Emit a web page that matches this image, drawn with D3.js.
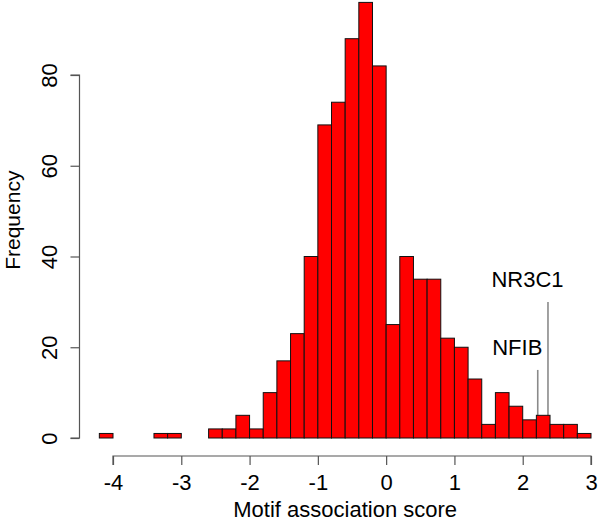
<!DOCTYPE html>
<html>
<head>
<meta charset="utf-8">
<script src="https://cdn.jsdelivr.net/npm/d3@7"></script>
<style>
  html, body { margin: 0; padding: 0; background: #fff; }
  svg { display: block; }
  text { font-family: "Liberation Sans", Arial, Helvetica, sans-serif; fill: #000; }
</style>
</head>
<body>
<script>
// Histogram bins (left edges, width 0.2) and counts
const binStarts = [-4.2,-4.0,-3.8,-3.6,-3.4,-3.2,-3.0,-2.8,-2.6,-2.4,-2.2,-2.0,-1.8,-1.6,-1.4,-1.2,-1.0,-0.8,-0.6,-0.4,-0.2,
                   0.0,0.2,0.4,0.6,0.8,1.0,1.2,1.4,1.6,1.8,2.0,2.2,2.4,2.6,2.8];
const counts    = [1,0,0,0,1,1,0,0,2,2,5,2,10,17,23,40,69,74,88,96,82,
                   25,40,35,35,22,20,13,3,10,7,4,5,3,3,1];
const binWidth = 0.2;

// Annotated motifs
const motifNames  = ["NFIB", "NR3C1"];
const motifScores = [2.22, 2.37];
const motifTops   = [15, 30];

// Axis ticks
const xTicks = [-4, -3, -2, -1, 0, 1, 2, 3];
const yTicks = [0, 20, 40, 60, 80];

const W = 600, H = 522;
const svg = d3.select("body").append("svg").attr("width", W).attr("height", H);

const x = d3.scaleLinear().domain([-4, 3]).range([113, 591]);
const y = d3.scaleLinear().domain([0, 80]).range([438, 75]);
const fontSize = 22;

// annotation segments (drawn first, bars cover the lower part)
svg.append("g").selectAll("line").data(motifScores).join("line")
  .attr("x1", d => x(d)).attr("x2", d => x(d))
  .attr("y1", y(0)).attr("y2", (d, i) => y(motifTops[i]))
  .attr("stroke", "#8a8a8a").attr("stroke-width", 1.6);

// bars
svg.append("g").selectAll("rect").data(counts).join("rect")
  .attr("x", (d, i) => x(binStarts[i]))
  .attr("width", (d, i) => x(binStarts[i] + binWidth) - x(binStarts[i]))
  .attr("y", d => y(d))
  .attr("height", d => y(0) - y(d))
  .attr("fill", "#ff0000")
  .attr("stroke", "#111").attr("stroke-width", 1);

// annotation labels
svg.append("g").selectAll("text").data(motifNames).join("text")
  .attr("x", (d, i) => x(motifScores[i] - 0.3))
  .attr("y", (d, i) => y(motifTops[i] + 5))
  .attr("dy", "0.36em")
  .attr("text-anchor", "middle")
  .style("font-size", fontSize + "px")
  .text(d => d);

// x axis
const xAxis = d3.axisBottom(x).tickValues(xTicks).tickSize(9).tickPadding(4)
  .tickFormat(d3.format("d"));
const gx = svg.append("g").attr("transform", "translate(0,456)").call(xAxis);
gx.select(".domain").attr("stroke", "#555").attr("stroke-width", 1.2)
  .attr("d", `M${x(-4)},9V0H${x(3)}V9`);
gx.selectAll(".tick line").attr("stroke", "#555").attr("stroke-width", 1.2);
gx.selectAll(".tick text").style("font-size", fontSize + "px")
  .style("font-family", '"Liberation Sans", Arial, sans-serif')
  .attr("dy", null).attr("y", 34).text(d => d < 0 ? "-" + Math.abs(d) : d);

// y axis
const yAxis = d3.axisLeft(y).tickValues(yTicks).tickSize(9).tickFormat(d3.format("d"));
const gy = svg.append("g").attr("transform", "translate(79.5,0)").call(yAxis);
gy.select(".domain").attr("stroke", "#555").attr("stroke-width", 1.2)
  .attr("d", `M-9,${y(0)}H0V${y(80)}H-9`);
gy.selectAll(".tick line").attr("stroke", "#555").attr("stroke-width", 1.2);
gy.selectAll(".tick text")
  .style("font-size", fontSize + "px")
  .style("font-family", '"Liberation Sans", Arial, sans-serif')
  .attr("x", null).attr("dy", null)
  .attr("text-anchor", "middle")
  .attr("transform", "translate(-22.5,0) rotate(-90)");

// axis titles
svg.append("text")
  .attr("x", x(-0.6)).attr("y", 517)
  .attr("text-anchor", "middle")
  .style("font-size", fontSize + "px")
  .text("Motif association score");

svg.append("text")
  .attr("transform", `translate(20,${y(48)}) rotate(-90)`)
  .attr("text-anchor", "middle")
  .style("font-size", "21px")
  .text("Frequency");
</script>
</body>
</html>
